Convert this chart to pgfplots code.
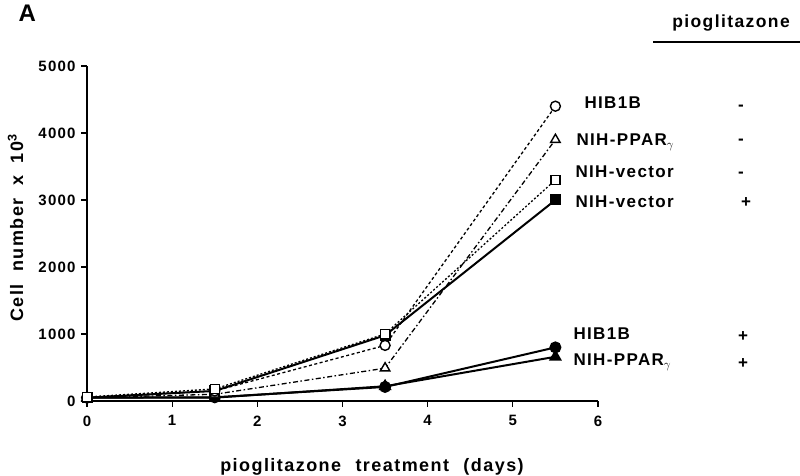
\documentclass[border=0pt]{standalone}
\usepackage{pgfplots}
\pgfplotsset{compat=1.18}
\usepackage{fontspec}
\setmainfont{Liberation Sans}[LetterSpace=8]
\newcommand{\tickfont}{\fontsize{15}{15}\selectfont\bfseries}
\begin{document}
\begin{tikzpicture}
\path[use as bounding box] (0pt,0pt) rectangle (800pt,476pt);
\begin{axis}[
  at={(87pt,75pt)}, anchor=south west,
  scale only axis, width=511pt, height=335pt,
  xmin=0, xmax=6, ymin=0, ymax=5000,
  axis lines=left, axis line style={-, line width=1.3pt},
  xtick={0,...,6}, ytick={0,1000,...,5000},
  tick align=outside, major tick length=6pt,
  tick style={line width=1.3pt, black},
  /pgf/number format/assume math mode=true,
  scaled y ticks=false,
  xticklabel style={font=\tickfont, yshift=-5pt},
  yticklabel style={font=\tickfont, /pgf/number format/1000 sep={}, xshift=-2pt},
  clip=false,
  every axis plot/.append style={black},
]
% NIH-PPARgamma +
\addplot[line width=2pt, mark=triangle*, mark size=5.5pt,
  mark options={solid, fill=black}] coordinates {
  (0,50) (1.5,50) (3.5,220) (5.5,660)};
% HIB1B +
\addplot[line width=2pt, mark=*, mark size=5pt,
  mark options={solid, fill=black}] coordinates {
  (0,50) (1.5,55) (3.5,210) (5.5,800)};
% NIH-vector +
\addplot[line width=2pt, mark=square*, mark size=4.5pt,
  mark options={solid, fill=black}] coordinates {
  (0,50) (1.5,150) (3.5,980) (5.5,3000)};
% NIH-PPARgamma -
\addplot[line width=1.3pt, dash pattern=on 5pt off 2.5pt on 1.5pt off 2.5pt,
  mark=triangle*, mark size=5.5pt,
  mark options={solid, fill=white, line width=1.4pt}] coordinates {
  (0,50) (1.5,100) (3.5,490) (5.5,3900)};
% HIB1B -
\addplot[line width=1.3pt, dash pattern=on 3pt off 2.5pt,
  mark=*, mark size=5pt,
  mark options={solid, fill=white, line width=1.4pt}] coordinates {
  (0,50) (1.5,150) (3.5,830) (5.5,4400)};
% NIH-vector -
\addplot[line width=1.3pt, dash pattern=on 2pt off 2pt,
  mark=square*, mark size=4.5pt,
  mark options={solid, fill=white, line width=1.4pt}] coordinates {
  (0,60) (1.5,180) (3.5,1000) (5.5,3300)};
\end{axis}
% panel letter and header
\node[anchor=base west, font=\fontsize{24}{24}\selectfont\bfseries] at (15pt,454pt) {A};
\node[anchor=base, font=\fontsize{17.5}{17.5}\selectfont\bfseries] at (731pt,448pt) {pioglitazone};
\draw[line width=1.3pt] (653pt,434pt) -- (800pt,434pt);
% axis labels
\node[rotate=90, anchor=base, font=\fontsize{18}{18}\selectfont\bfseries] at (23pt,248pt)
  {Cell\hspace{0.7em}number\hspace{0.7em}x\hspace{0.7em}10\textsuperscript{3}};
\node[anchor=base, font=\fontsize{18}{18}\selectfont\bfseries] at (372pt,4pt)
  {pioglitazone\hspace{0.8em}treatment\hspace{0.8em}(days)};
% series labels
\begin{scope}[every node/.style={font=\fontsize{17}{17}\selectfont\bfseries, anchor=base west}]
\node at (581pt,367pt) {HIB1B};
\node at (573pt,330pt) {NIH-PPAR$_\gamma$};
\node at (572pt,298pt) {NIH-vector};
\node at (572pt,268pt) {NIH-vector};
\node at (570pt,136pt) {HIB1B};
\node at (570pt,110pt) {NIH-PPAR$_\gamma$};
\end{scope}
\begin{scope}[every node/.style={font=\fontsize{17}{17}\selectfont\bfseries, anchor=base}]
\node at (741pt,365pt) {-};
\node at (741pt,331pt) {-};
\node at (741pt,298pt) {-};
\node at (746pt,268pt) {+};
\node at (743pt,134pt) {+};
\node at (743pt,107pt) {+};
\end{scope}
\end{tikzpicture}
\end{document}
